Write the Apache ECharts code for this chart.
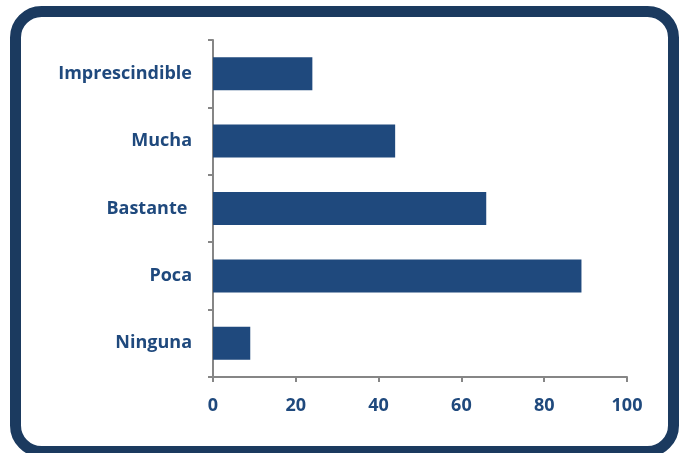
<!DOCTYPE html>
<html><head><meta charset="utf-8">
<script src="https://cdn.jsdelivr.net/npm/echarts@6/dist/echarts.min.js"></script>
<style>html,body{margin:0;padding:0;background:#fff}#c{width:680px;height:453px}</style>
</head><body><div id="c"></div>
<script>
const categories = ['Ninguna', 'Poca', 'Bastante ', 'Mucha', 'Imprescindible'];
const values = [9, 89, 66, 44, 24];
const xTicks = [0, 20, 40, 60, 80, 100];

const chart = echarts.init(document.getElementById('c'));
const labelColor = '#1f497d';
const axisColor = '#868686';
chart.setOption({
  animation: false,
  graphic: [{
    type: 'rect', shape: {x: 15.5, y: 11.5, width: 658, height: 440, r: 26},
    style: {fill: 'none', stroke: '#1b3a5f', lineWidth: 11}
  }],
  grid: {left: 213, right: 53, top: 40, bottom: 76, containLabel: false},
  xAxis: {
    type: 'value', min: xTicks[0], max: xTicks[xTicks.length - 1], interval: 20,
    axisLine: {show: true, lineStyle: {color: axisColor, width: 2}},
    axisTick: {show: true, length: 5, lineStyle: {color: axisColor, width: 2}},
    splitLine: {show: false},
    axisLabel: {color: labelColor, fontFamily: 'Open Sans', fontWeight: 'bold', fontSize: 18, margin: 20}
  },
  yAxis: {
    type: 'category', data: categories,
    axisLine: {show: true, lineStyle: {color: axisColor, width: 2}},
    axisTick: {show: true, length: 5, lineStyle: {color: axisColor, width: 2}},
    axisLabel: {color: labelColor, fontFamily: 'Open Sans', fontWeight: 'bold', fontSize: 18, margin: 21, padding: [6, 0, 0, 0]}
  },
  series: [{
    type: 'bar', data: values, barWidth: '49%',
    itemStyle: {color: '#1f497d'}
  }]
});
</script></body></html>
